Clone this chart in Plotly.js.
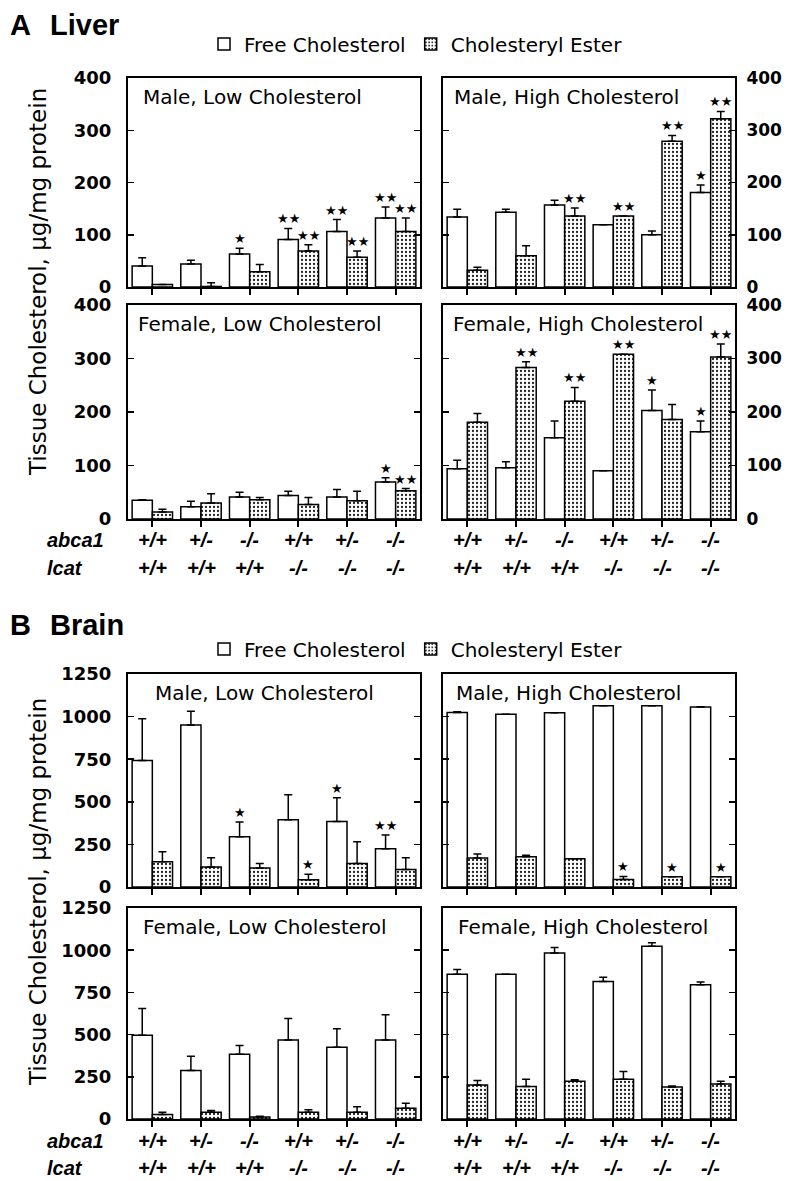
<!DOCTYPE html>
<html>
<head>
<meta charset="utf-8">
<script src="https://cdn.plot.ly/plotly-3.0.1.min.js"></script>
<style>html,body{margin:0;padding:0;background:#fff;}#chart{width:787px;height:1181px;}</style>
</head>
<body>
<div id="chart"></div>
<script>
// ---------------- DATA ----------------
const abca1Genotypes = ["+/+", "+/-", "-/-", "+/+", "+/-", "-/-"];
const lcatGenotypes  = ["+/+", "+/+", "+/+", "-/-", "-/-", "-/-"];
const seriesNames = ["Free Cholesterol", "Cholesteryl Ester"];
const panelTitles = ["Male, Low Cholesterol", "Male, High Cholesterol",
                     "Female, Low Cholesterol", "Female, High Cholesterol"];
const yTitle = "Tissue Cholesterol, \u03bcg/mg protein";

// Liver (panel A), μg/mg protein
const liverMaleLowFC      = [40, 44, 63, 91, 106, 132];
const liverMaleLowFCErr   = [16, 7, 11, 21, 23, 21];
const liverMaleLowCE      = [5, 1, 29, 69, 57, 106];
const liverMaleLowCEErr   = [0, 7, 14, 12, 12, 26];
const liverMaleLowSigFC   = ["", "", "★", "★★", "★★", "★★"];
const liverMaleLowSigCE   = ["", "", "", "★★", "★★", "★★"];

const liverMaleHighFC     = [134, 143, 157, 119, 100, 181];
const liverMaleHighFCErr  = [15, 6, 9, 0, 7, 14];
const liverMaleHighCE     = [32, 60, 136, 136, 279, 322];
const liverMaleHighCEErr  = [6, 19, 15, 0, 11, 14];
const liverMaleHighSigFC  = ["", "", "", "", "", "★"];
const liverMaleHighSigCE  = ["", "", "★★", "★★", "★★", "★★"];

const liverFemaleLowFC    = [35, 23, 41, 44, 41, 69];
const liverFemaleLowFCErr = [1, 10, 9, 8, 14, 8];
const liverFemaleLowCE    = [13, 30, 36, 27, 34, 53];
const liverFemaleLowCEErr = [5, 17, 4, 13, 18, 4];
const liverFemaleLowSigFC = ["", "", "", "", "", "★"];
const liverFemaleLowSigCE = ["", "", "", "", "", "★★"];

const liverFemaleHighFC    = [94, 96, 152, 90, 203, 163];
const liverFemaleHighFCErr = [16, 11, 31, 0, 38, 20];
const liverFemaleHighCE    = [181, 283, 220, 308, 186, 303];
const liverFemaleHighCEErr = [16, 11, 26, 0, 28, 24];
const liverFemaleHighSigFC = ["", "", "", "", "★", "★"];
const liverFemaleHighSigCE = ["", "★★", "★★", "★★", "", "★★"];

// Brain (panel B), μg/mg protein
const brainMaleLowFC      = [742, 951, 295, 394, 384, 224];
const brainMaleLowFCErr   = [246, 80, 87, 147, 140, 81];
const brainMaleLowCE      = [148, 118, 112, 43, 138, 102];
const brainMaleLowCEErr   = [59, 53, 26, 32, 128, 69];
const brainMaleLowSigFC   = ["", "", "★", "", "★", "★★"];
const brainMaleLowSigCE   = ["", "", "", "★", "", ""];

const brainMaleHighFC     = [1024, 1014, 1022, 1064, 1064, 1056];
const brainMaleHighFCErr  = [4, 0, 0, 0, 0, 2];
const brainMaleHighCE     = [170, 178, 166, 44, 60, 60];
const brainMaleHighCEErr  = [24, 8, 0, 18, 0, 0];
const brainMaleHighSigFC  = ["", "", "", "", "", ""];
const brainMaleHighSigCE  = ["", "", "", "★", "★", "★"];

const brainFemaleLowFC    = [496, 287, 383, 468, 425, 468];
const brainFemaleLowFCErr = [158, 85, 52, 127, 109, 149];
const brainFemaleLowCE    = [26, 40, 12, 40, 40, 63];
const brainFemaleLowCEErr = [14, 11, 4, 15, 33, 30];
const brainFemaleLowSigFC = ["", "", "", "", "", ""];
const brainFemaleLowSigCE = ["", "", "", "", "", ""];

const brainFemaleHighFC    = [858, 858, 984, 814, 1024, 796];
const brainFemaleHighFCErr = [28, 0, 32, 26, 20, 16];
const brainFemaleHighCE    = [202, 192, 224, 236, 190, 208];
const brainFemaleHighCEErr = [26, 44, 8, 46, 6, 16];
const brainFemaleHighSigFC = ["", "", "", "", "", ""];
const brainFemaleHighSigCE = ["", "", "", "", "", ""];

const liverRange = [0, 400], liverDtick = 100;
const brainRange = [0, 1250], brainDtick = 250;

// ---------------- LAYOUT / STYLE ----------------
const W = 787, H = 1181;
const py = p => 1 - p / H;
const px = p => p / W;
const BARGAP = 0.17;
const halfOffset = (1 - BARGAP) / 4;

const xLeft = [px(128), px(420)];
const xRight = [px(443), px(735)];
const yATop = [py(287), py(78)];
const yABot = [py(519), py(305)];
const yBTop = [py(887), py(674)];
const yBBot = [py(1119), py(908)];

const panels = [
  {fc: liverMaleLowFC, fcE: liverMaleLowFCErr, ce: liverMaleLowCE, ceE: liverMaleLowCEErr, sF: liverMaleLowSigFC, sC: liverMaleLowSigCE, t: 0, xd: xLeft, yd: yATop, range: liverRange, dtick: liverDtick, labels: 'left', legend: 'legend', tx: 13},
  {fc: liverMaleHighFC, fcE: liverMaleHighFCErr, ce: liverMaleHighCE, ceE: liverMaleHighCEErr, sF: liverMaleHighSigFC, sC: liverMaleHighSigCE, t: 1, xd: xRight, yd: yATop, range: liverRange, dtick: liverDtick, labels: 'right', legend: null, tx: 9},
  {fc: liverFemaleLowFC, fcE: liverFemaleLowFCErr, ce: liverFemaleLowCE, ceE: liverFemaleLowCEErr, sF: liverFemaleLowSigFC, sC: liverFemaleLowSigCE, t: 2, xd: xLeft, yd: yABot, range: liverRange, dtick: liverDtick, labels: 'left', legend: null, tx: 8, geno: true, genoY: [540, 568]},
  {fc: liverFemaleHighFC, fcE: liverFemaleHighFCErr, ce: liverFemaleHighCE, ceE: liverFemaleHighCEErr, sF: liverFemaleHighSigFC, sC: liverFemaleHighSigCE, t: 3, xd: xRight, yd: yABot, range: liverRange, dtick: liverDtick, labels: 'right', legend: null, tx: 8, geno: true, genoY: [540, 568]},
  {fc: brainMaleLowFC, fcE: brainMaleLowFCErr, ce: brainMaleLowCE, ceE: brainMaleLowCEErr, sF: brainMaleLowSigFC, sC: brainMaleLowSigCE, t: 0, xd: xLeft, yd: yBTop, range: brainRange, dtick: brainDtick, labels: 'left', legend: 'legend2', tx: 25},
  {fc: brainMaleHighFC, fcE: brainMaleHighFCErr, ce: brainMaleHighCE, ceE: brainMaleHighCEErr, sF: brainMaleHighSigFC, sC: brainMaleHighSigCE, t: 1, xd: xRight, yd: yBTop, range: brainRange, dtick: brainDtick, labels: 'none', legend: null, tx: 11},
  {fc: brainFemaleLowFC, fcE: brainFemaleLowFCErr, ce: brainFemaleLowCE, ceE: brainFemaleLowCEErr, sF: brainFemaleLowSigFC, sC: brainFemaleLowSigCE, t: 2, xd: xLeft, yd: yBBot, range: brainRange, dtick: brainDtick, labels: 'left', legend: null, tx: 13, geno: true, genoY: [1141, 1168]},
  {fc: brainFemaleHighFC, fcE: brainFemaleHighFCErr, ce: brainFemaleHighCE, ceE: brainFemaleHighCEErr, sF: brainFemaleHighSigFC, sC: brainFemaleHighSigCE, t: 3, xd: xRight, yd: yBBot, range: brainRange, dtick: brainDtick, labels: 'none', legend: null, tx: 13, geno: true, genoY: [1141, 1168]}
];

const cats = abca1Genotypes.map((_, i) => i);
const traces = [];
const annotations = [];
const legendFont = {family: 'DejaVu Sans', size: 20, color: '#000'};
const layout = {
  width: W, height: H,
  margin: {l: 0, r: 0, t: 0, b: 0},
  paper_bgcolor: '#fff', plot_bgcolor: '#fff',
  barmode: 'group', bargap: BARGAP, bargroupgap: 0,
  font: {family: 'DejaVu Sans', color: '#000'},
  showlegend: true,
  legend: {orientation: 'h', x: px(204), y: py(44), xanchor: 'left', yanchor: 'middle',
           font: legendFont, bgcolor: 'rgba(0,0,0,0)', itemclick: false},
  legend2: {orientation: 'h', x: px(204), y: py(649), xanchor: 'left', yanchor: 'middle',
           font: legendFont, bgcolor: 'rgba(0,0,0,0)', itemclick: false},
  annotations: annotations
};

const tickFontLeft = {family: 'DejaVu Sans', size: 18, weight: 'bold', color: '#000'};
const tickFontRight = {family: 'DejaVu Sans', size: 17, weight: 'bold', color: '#000'};
const genoFont = {family: 'Liberation Sans', size: 20, weight: 'bold', style: 'italic', color: '#000'};
const starFont = {family: 'DejaVu Sans', size: 13, color: '#000'};

panels.forEach((p, k) => {
  const n = k + 1;
  const xa = n === 1 ? 'x' : 'x' + n;
  const ya = n === 1 ? 'y' : 'y' + n;
  const xkey = n === 1 ? 'xaxis' : 'xaxis' + n;
  const ykey = n === 1 ? 'yaxis' : 'yaxis' + n;
  const right = p.labels === 'right';
  layout[xkey] = {
    domain: p.xd, anchor: ya, range: [-0.5, 5.5], tickvals: cats, showticklabels: false,
    ticks: 'outside', ticklen: 6, tickwidth: 2, tickcolor: '#000',
    showline: true, mirror: true, linecolor: '#000', linewidth: 2,
    showgrid: false, zeroline: false, fixedrange: true
  };
  layout[ykey] = {
    domain: p.yd, anchor: xa, range: p.range, dtick: p.dtick, tick0: 0,
    ticks: 'inside', ticklen: 6, tickwidth: 1.5, tickcolor: '#000',
    showline: true, mirror: 'ticks', linecolor: '#000', linewidth: 2,
    showgrid: false, zeroline: false, fixedrange: true,
    showticklabels: p.labels !== 'none', side: right ? 'right' : 'left',
    tickfont: right ? tickFontRight : tickFontLeft, ticklabelstandoff: right ? 6 : 11
  };
  const common = {type: 'bar', x: cats, xaxis: xa, yaxis: ya, hoverinfo: 'skip'};
  traces.push(Object.assign({}, common, {
    name: seriesNames[0], y: p.fc,
    marker: {color: '#fff', line: {color: '#000', width: 1.5}},
    error_y: {type: 'data', symmetric: false, array: p.fcE, arrayminus: p.fcE.map(() => 0), color: '#000', thickness: 1.5, width: 4},
    showlegend: !!p.legend, legend: p.legend || 'legend'
  }));
  traces.push(Object.assign({}, common, {
    name: seriesNames[1], y: p.ce,
    marker: {color: '#fff', line: {color: '#000', width: 1.5},
             pattern: {shape: '.', fgcolor: '#222', bgcolor: '#fff', size: 4, solidity: 0.25, fillmode: 'replace'}},
    error_y: {type: 'data', symmetric: false, array: p.ceE, arrayminus: p.ceE.map(() => 0), color: '#000', thickness: 1.5, width: 4},
    showlegend: !!p.legend, legend: p.legend || 'legend'
  }));
  // panel title
  annotations.push({xref: xa + ' domain', yref: ya + ' domain', x: 0, y: 1, xshift: p.tx, yshift: -19,
    xanchor: 'left', yanchor: 'middle', showarrow: false, text: panelTitles[p.t],
    font: {family: 'DejaVu Sans', size: 20, color: '#000'}});
  // significance stars
  cats.forEach(i => {
    if (p.sF[i]) annotations.push({xref: xa, yref: ya, x: i - halfOffset, y: p.fc[i] + p.fcE[i],
      yanchor: 'bottom', xanchor: 'center', yshift: 0, showarrow: false, text: p.sF[i], font: starFont});
    if (p.sC[i]) annotations.push({xref: xa, yref: ya, x: i + halfOffset, y: p.ce[i] + p.ceE[i],
      yanchor: 'bottom', xanchor: 'center', yshift: 0, showarrow: false, text: p.sC[i], font: starFont});
  });
  // genotype labels
  if (p.geno) {
    cats.forEach(i => {
      annotations.push({xref: xa, yref: 'paper', x: i, y: py(p.genoY[0]), yanchor: 'middle', showarrow: false, text: abca1Genotypes[i], font: genoFont});
      annotations.push({xref: xa, yref: 'paper', x: i, y: py(p.genoY[1]), yanchor: 'middle', showarrow: false, text: lcatGenotypes[i], font: genoFont});
    });
    if (p.xd === xLeft) {
      annotations.push({xref: 'paper', yref: 'paper', x: px(45), y: py(p.genoY[0]), xanchor: 'left', yanchor: 'middle', showarrow: false, text: 'abca1', font: genoFont});
      annotations.push({xref: 'paper', yref: 'paper', x: px(45), y: py(p.genoY[1]), xanchor: 'left', yanchor: 'middle', showarrow: false, text: 'lcat', font: genoFont});
    }
  }
});

// section headers and y titles
const headFont = {family: 'Liberation Sans', size: 29, weight: 'bold', color: '#000'};
[["A", "Liver", 25], ["B", "Brain", 625]].forEach(h => {
  annotations.push({xref: 'paper', yref: 'paper', x: px(8), y: py(h[2]), xanchor: 'left', yanchor: 'middle', showarrow: false, text: h[0], font: headFont});
  annotations.push({xref: 'paper', yref: 'paper', x: px(48), y: py(h[2]), xanchor: 'left', yanchor: 'middle', showarrow: false, text: h[1], font: headFont});
});
[282, 892].forEach(c => {
  annotations.push({xref: 'paper', yref: 'paper', x: px(38), y: py(c), xanchor: 'center', yanchor: 'middle', textangle: -90,
    showarrow: false, text: yTitle, font: {family: 'DejaVu Sans', size: 23, color: '#000'}});
});

Plotly.newPlot('chart', traces, layout, {staticPlot: true});
</script>
</body>
</html>
